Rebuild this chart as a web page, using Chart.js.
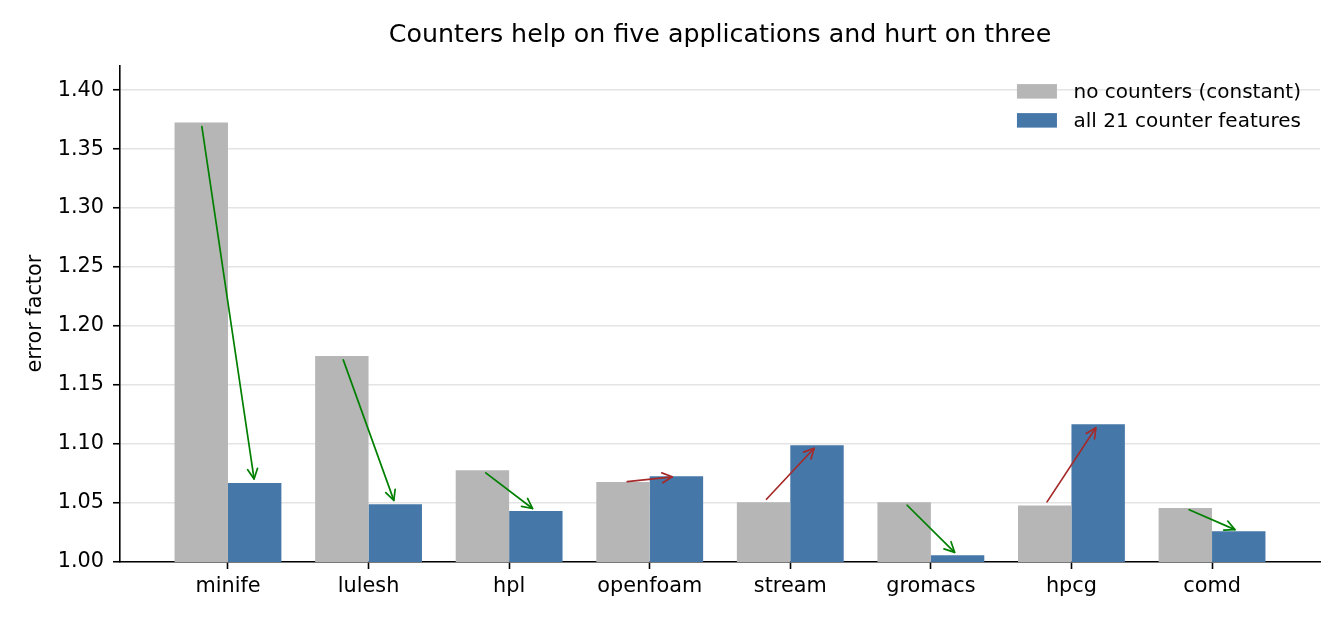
<!DOCTYPE html>
<html>
<head>
<meta charset="utf-8">
<script src="https://cdn.jsdelivr.net/npm/chart.js@4"></script>
<style>
html, body { margin: 0; padding: 0; background: #fff; }
#wrap { width: 1344px; height: 624px; }
</style>
</head>
<body>
<div id="wrap"><canvas id="c" width="1344" height="624"></canvas></div>
<script>
const apps = ['minife', 'lulesh', 'hpl', 'openfoam', 'stream', 'gromacs', 'hpcg', 'comd'];
const noCounters = [1.3726, 1.1747, 1.0777, 1.0678, 1.0506, 1.0506, 1.0480, 1.0458];
const allCounters = [1.0669, 1.0489, 1.0432, 1.0726, 1.0990, 1.0057, 1.1167, 1.0260];
const seriesLabels = ['no counters (constant)', 'all 21 counter features'];
const titleText = 'Counters help on five applications and hurt on three';
const yLabel = 'error factor';

const FONT = 'DejaVu Sans';
const grayColor = '#b6b6b6';
const blueColor = '#4677a9';
const betterColor = '#008000';
const worseColor = '#a52a2a';

const arrowPlugin = {
  id: 'arrows',
  afterDatasetsDraw(chart) {
    const ctx = chart.ctx;
    const m0 = chart.getDatasetMeta(0).data;
    const m1 = chart.getDatasetMeta(1).data;
    ctx.save();
    for (let i = 0; i < apps.length; i++) {
      const a = m0[i], b = m1[i];
      let x1 = a.x, y1 = a.y, x2 = b.x, y2 = b.y;
      const dx = x2 - x1, dy = y2 - y1;
      const len = Math.hypot(dx, dy);
      const ux = dx / len, uy = dy / len;
      const shrink = 4.2;
      x1 += ux * shrink; y1 += uy * shrink;
      x2 -= ux * shrink; y2 -= uy * shrink;
      const col = allCounters[i] < noCounters[i] ? betterColor : worseColor;
      ctx.strokeStyle = col;
      ctx.lineWidth = 1.7;
      ctx.lineCap = 'round';
      ctx.lineJoin = 'round';
      ctx.beginPath();
      ctx.moveTo(x1, y1);
      ctx.lineTo(x2, y2);
      ctx.stroke();
      const hl = 10, hw = 5;
      const bx = x2 - ux * hl, by = y2 - uy * hl;
      const px = -uy, py = ux;
      ctx.beginPath();
      ctx.moveTo(bx + px * hw, by + py * hw);
      ctx.lineTo(x2, y2);
      ctx.lineTo(bx - px * hw, by - py * hw);
      ctx.stroke();
    }
    ctx.restore();
  }
};

const legendPlugin = {
  id: 'innerLegend',
  afterDraw(chart) {
    const ctx = chart.ctx;
    const area = chart.chartArea;
    ctx.save();
    ctx.font = '20px "' + FONT + '"';
    const tw = Math.max(...seriesLabels.map(t => ctx.measureText(t).width));
    const textX = area.right - 19 - tw;
    const boxW = 40, boxH = 14.5;
    const boxX = textX - 16.5 - boxW;
    const rows = [area.top + 26.5, area.top + 55.5];
    chart.data.datasets.forEach((ds, i) => {
      ctx.fillStyle = ds.backgroundColor;
      ctx.fillRect(boxX, rows[i] - boxH / 2 - 0.5, boxW, boxH);
      ctx.fillStyle = '#000';
      ctx.textBaseline = 'middle';
      ctx.textAlign = 'left';
      ctx.fillText(ds.label, textX, rows[i] + 1);
    });
    ctx.restore();
  }
};

const chart = new Chart(document.getElementById('c'), {
  type: 'bar',
  data: {
    datasets: [
      {
        label: seriesLabels[0],
        data: noCounters.map((v, i) => ({ x: i, y: v })),
        backgroundColor: grayColor,
        borderWidth: 0,
        categoryPercentage: 0.76,
        barPercentage: 1.0
      },
      {
        label: seriesLabels[1],
        data: allCounters.map((v, i) => ({ x: i, y: v })),
        backgroundColor: blueColor,
        borderWidth: 0,
        categoryPercentage: 0.76,
        barPercentage: 1.0
      }
    ]
  },
  options: {
    responsive: false,
    animation: false,
    devicePixelRatio: 1,
    layout: { padding: { left: 0, right: 24, top: 0, bottom: 0 } },
    plugins: {
      legend: { display: false },
      tooltip: { enabled: false },
      title: {
        display: true,
        text: titleText,
        fullSize: false,
        color: '#000',
        font: { family: FONT, size: 25.3, weight: 'normal', lineHeight: 1.2 },
        padding: { top: 20, bottom: 15 }
      }
    },
    scales: {
      x: {
        type: 'linear',
        min: -0.768,
        max: 7.768,
        offset: false,
        grid: {
          offset: false,
          drawOnChartArea: false,
          drawTicks: true,
          tickLength: 7,
          tickColor: '#000',
          tickWidth: 1.6
        },
        border: { display: true, color: '#000', width: 1.6 },
        ticks: {
          stepSize: 1,
          includeBounds: false,
          autoSkip: false,
          maxRotation: 0,
          color: '#000',
          padding: 5,
          font: { family: FONT, size: 20.8 },
          callback: (v) => (Number.isInteger(v) && v >= 0 && v < apps.length) ? apps[v] : ''
        },
        afterFit(scale) { scale.height = 62; }
      },
      y: {
        type: 'linear',
        min: 1.0,
        max: 1.421,
        grid: {
          color: '#e4e4e4',
          lineWidth: 1.5,
          drawTicks: true,
          tickLength: 7,
          tickColor: '#000',
          tickWidth: 1.6
        },
        border: { display: true, color: '#000', width: 1.6 },
        ticks: {
          stepSize: 0.05,
          includeBounds: false,
          color: '#000',
          padding: 9,
          font: { family: FONT, size: 20.8 },
          callback: (v) => v.toFixed(2)
        },
        title: {
          display: true,
          text: yLabel,
          color: '#000',
          font: { family: FONT, size: 20.8 },
          padding: { top: 23, bottom: 0 }
        },
        afterFit(scale) { scale.width = 120; }
      }
    }
  },
  plugins: [arrowPlugin, legendPlugin]
});
</script>
</body>
</html>
